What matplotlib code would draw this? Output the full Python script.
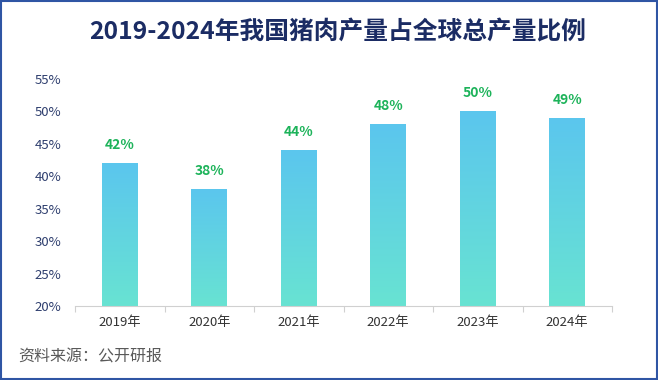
import matplotlib
matplotlib.use("Agg")
import matplotlib.pyplot as plt
import numpy as np
from matplotlib.colors import LinearSegmentedColormap
from matplotlib.patches import Rectangle

plt.rcParams['font.family'] = ['Noto Sans CJK SC', 'DejaVu Sans']

categories = ['2019年', '2020年', '2021年', '2022年', '2023年', '2024年']
values = [42, 38, 44, 48, 50, 49]
labels = ['42%', '38%', '44%', '48%', '50%', '49%']
yticks = [20, 25, 30, 35, 40, 45, 50, 55]
title = '2019-2024年我国猪肉产量占全球总产量比例'
source = '资料来源：公开研报'

fig = plt.figure(figsize=(6.58, 3.80), dpi=100)
ax = fig.add_axes([75/658, 1-306/380, (612-75)/658, (306-79)/380])

ymin, ymax = 20, 55
x = np.arange(len(categories))
width = 0.40
cmap = LinearSegmentedColormap.from_list('g', ['#68E3D2', '#5BC6EE'])
grad = np.linspace(0, 1, 256).reshape(-1, 1)

bars = ax.bar(x, np.array(values) - ymin, bottom=ymin, width=width, color='none', edgecolor='none')
for b in bars:
    x0, y0 = b.get_x(), b.get_y()
    w, h = b.get_width(), b.get_height()
    im = ax.imshow(grad, cmap=cmap, origin='lower', aspect='auto',
                   extent=[x0, x0 + w, y0, y0 + h], zorder=2)
    im.set_clip_path(b)

for xi, v, lab in zip(x, values, labels):
    ax.text(xi, v + 1.7, lab, ha='center', va='bottom', color='#1DB35A',
            fontsize=10, fontweight='bold')

ax.set_xlim(-0.5, len(categories) - 0.5)
ax.set_ylim(ymin, ymax)
ax.set_yticks(yticks)
ax.set_yticklabels([f'{t}%' for t in yticks], color='#2E3E6E', fontsize=9.5)
ax.set_xticks(x)
ax.set_xticklabels(categories, color='#333333', fontsize=9.5)
ax.set_xticks(np.arange(len(categories) + 1) - 0.5, minor=True)
ax.tick_params(axis='x', which='major', length=0, pad=7)
ax.tick_params(axis='x', which='minor', length=4, color='#D0D0D0', width=0.8)
ax.tick_params(axis='y', length=0, pad=10)
for s in ['top', 'right', 'left']:
    ax.spines[s].set_visible(False)
ax.spines['bottom'].set_color('#D0D0D0')
ax.spines['bottom'].set_linewidth(0.8)

fig.text(338/658, 1-33/380, title, ha='center', va='center', fontsize=17.8,
         fontweight='bold', color='#1B2C64')
fig.text(18/658, 1-357/380, source, ha='left', va='center', fontsize=11.5, color='#595959')

border = Rectangle((0.0015, 0.0025), 0.997, 0.995, transform=fig.transFigure,
                   fill=False, edgecolor='#2F55A4', linewidth=1.5)
fig.add_artist(border)

fig.savefig('out.png', dpi=100)
